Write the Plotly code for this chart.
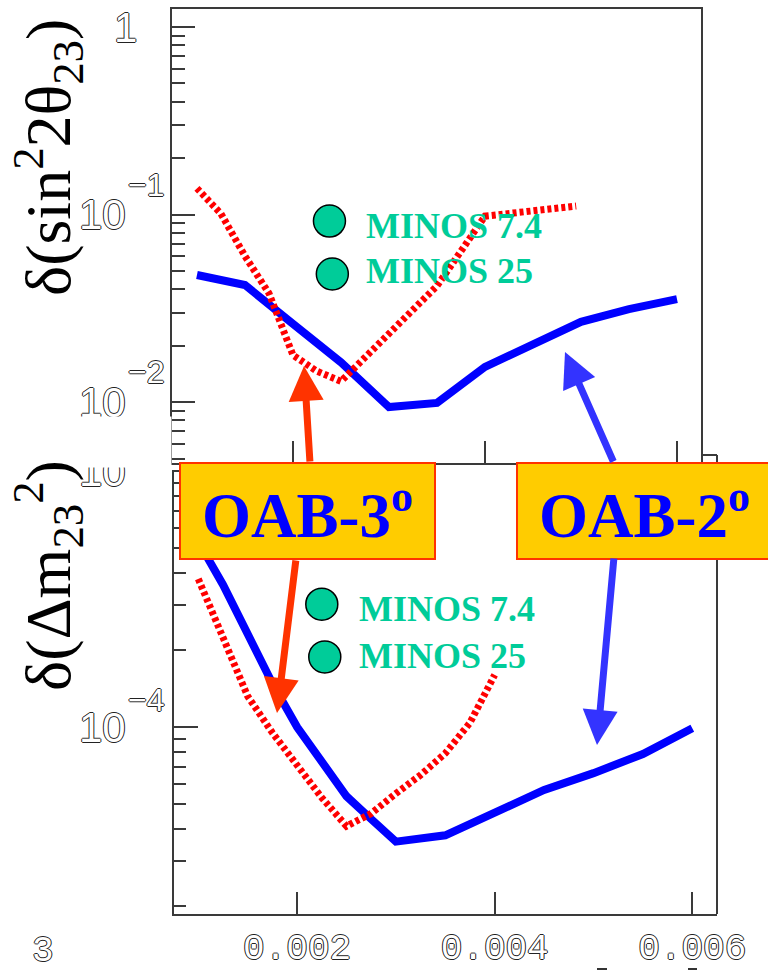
import numpy as np
import plotly.graph_objects as go

W, H = 768, 971

# --- δ(sin²2θ23) versus Δm²23 -------------------------------------------
dm2_sin_blue = [0.001, 0.0015, 0.002, 0.0025, 0.003, 0.0035, 0.004, 0.0045, 0.005, 0.0055, 0.006]
sin_blue = [0.0476, 0.0421, 0.0261, 0.0163, 0.0094, 0.0099, 0.0154, 0.0204, 0.0268, 0.0313, 0.0354]

dm2_sin_red = [0.001, 0.00125, 0.0015, 0.00175, 0.002, 0.00225, 0.0025, 0.00275, 0.003,
               0.0035, 0.004, 0.0045, 0.00495]
sin_red = [0.138, 0.101, 0.060, 0.038, 0.0178, 0.0146, 0.0129, 0.0172, 0.0228,
           0.0416, 0.098, 0.104, 0.111]

# --- δ(Δm²23) versus Δm²23 ----------------------------------------------
dm2_dm_blue = [0.001, 0.00125, 0.0015, 0.00175, 0.002, 0.00225, 0.0025, 0.00275, 0.003,
               0.0035, 0.004, 0.0045, 0.005, 0.0055, 0.006]
dm_blue = [5.3e-4, 3.6e-4, 2.31e-4, 1.48e-4, 1.0e-4, 7.3e-5, 5.37e-5, 4.37e-5, 3.57e-5,
           3.78e-5, 4.66e-5, 5.68e-5, 6.61e-5, 7.85e-5, 9.9e-5]

dm2_dm_red = [0.001, 0.00125, 0.0015, 0.00175, 0.002, 0.00225, 0.0025, 0.00275, 0.003,
              0.00325, 0.0035, 0.00375, 0.004]
dm_red = [3.79e-4, 2.23e-4, 1.32e-4, 9.5e-5, 7.1e-5, 5.3e-5, 4.1e-5, 4.6e-5, 5.5e-5,
          6.5e-5, 7.9e-5, 1.04e-4, 1.6e-4]

# MINOS reference points
minos_labels = ["MINOS 7.4", "MINOS 25"]
minos_sin_x = [0.00238, 0.00241]
minos_sin_y = [0.0923, 0.0482]
minos_dm_x = [0.00225, 0.00228]
minos_dm_y = [3.02e-4, 1.88e-4]

# axis ticks
x_ticks = [0.002, 0.004, 0.006]
x_ticktext = ["0.002", "0.004", "0.006"]
sin_ticks = [0.01, 0.1, 1]
sin_exponents = [-2, -1, 0]
sin_minor = [m * d for d in (0.001, 0.01, 0.1) for m in range(2, 10)]
dm_ticks = [1e-4, 1e-3]
dm_exponents = [-4, -3]
dm_minor = [m * d for d in (1e-5, 1e-4) for m in range(2, 10)]

BLUE = "#0000FF"
RED = "#FF0000"
GREEN = "#00CC99"
AXC = "#3a3a3a"
ARROW_RED = "#FF3300"
ARROW_BLUE = "#3333FF"


def px(x):
    return x / W


def py(y):
    return 1 - y / H


outline = "1px 0 0 #222, -1px 0 0 #222, 0 1px 0 #222, 0 -1px 0 #222"
font_mant = dict(family="Liberation Sans", size=42, color="white", shadow=outline)
font_exp = dict(family="Liberation Sans", size=32, color="white", shadow=outline)
tickfont_x = dict(family="Liberation Mono", size=36, color="white", shadow=outline)

fig = go.Figure()

# top panel
fig.add_trace(go.Scatter(x=dm2_sin_blue, y=sin_blue, mode="lines", xaxis="x", yaxis="y",
                         line=dict(color=BLUE, width=8), showlegend=False))
fig.add_trace(go.Scatter(x=dm2_sin_red, y=sin_red, mode="lines", xaxis="x", yaxis="y",
                         line=dict(color=RED, width=7, dash="4px,3px"), showlegend=False))
fig.add_trace(go.Scatter(x=minos_sin_x, y=minos_sin_y, mode="markers", xaxis="x", yaxis="y",
                         marker=dict(size=32, color=GREEN, line=dict(color="black", width=1.5)),
                         showlegend=False))

# bottom panel
fig.add_trace(go.Scatter(x=dm2_dm_blue, y=dm_blue, mode="lines", xaxis="x2", yaxis="y2",
                         line=dict(color=BLUE, width=8), showlegend=False))
fig.add_trace(go.Scatter(x=dm2_dm_red, y=dm_red, mode="lines", xaxis="x2", yaxis="y2",
                         line=dict(color=RED, width=7, dash="4px,3px"), showlegend=False))
fig.add_trace(go.Scatter(x=minos_dm_x, y=minos_dm_y, mode="markers", xaxis="x2", yaxis="y2",
                         marker=dict(size=32, color=GREEN, line=dict(color="black", width=1.5)),
                         showlegend=False))

common = dict(showgrid=False, zeroline=False, linecolor=AXC, linewidth=2, automargin=False,
              tickcolor=AXC, tickwidth=2, ticks="inside")

fig.update_layout(
    width=W, height=H,
    margin=dict(l=0, r=0, t=0, b=0, pad=0),
    paper_bgcolor="white", plot_bgcolor="white",
    xaxis=dict(domain=[px(172), px(701)], range=[0.00074, 0.00625], anchor="y",
               showline=True, mirror=True, ticklen=22, tickvals=x_ticks,
               showticklabels=False, **common),
    yaxis=dict(type="log", domain=[py(463), py(9)], range=[-2.325, 0.096], anchor="x",
               showline=True, mirror=True, ticklen=23, tickvals=sin_ticks,
               showticklabels=False,
               minor=dict(ticks="inside", ticklen=13, tickwidth=2, tickcolor=AXC,
                          tickmode="array", tickvals=sin_minor),
               **common),
    xaxis2=dict(domain=[px(174), px(717)], range=[0.000754, 0.00625], anchor="y2",
                showline=True, ticklen=22, tickvals=x_ticks, ticktext=x_ticktext,
                tickfont=tickfont_x, ticklabelstandoff=0, **common),
    yaxis2=dict(type="log", domain=[py(914), py(470)], range=[-4.730, -2.996], anchor="x2",
                showline=True, ticklen=24, tickvals=dm_ticks, showticklabels=False,
                minor=dict(ticks="inside", ticklen=12, tickwidth=2, tickcolor=AXC,
                           tickmode="array", tickvals=dm_minor),
                **common),
)

shapes = [
    # right edge and top-right corner of the lower frame
    dict(type="line", xref="paper", yref="paper", x0=px(717), x1=px(717), y0=py(914), y1=py(455),
         line=dict(color=AXC, width=2)),
    dict(type="line", xref="paper", yref="paper", x0=px(701), x1=px(717), y0=py(455), y1=py(455),
         line=dict(color=AXC, width=2)),
    # label boxes
    dict(type="rect", xref="paper", yref="paper", x0=px(180), x1=px(435), y0=py(559), y1=py(463),
         fillcolor="#FFCC00", line=dict(color="#FF3300", width=2), layer="above"),
    dict(type="rect", xref="paper", yref="paper", x0=px(517), x1=px(790), y0=py(559), y1=py(463),
         fillcolor="#FFCC00", line=dict(color="#FF3300", width=2), layer="above"),
    # cut-off marks along the lower edge
    dict(type="line", xref="paper", yref="paper", x0=px(597), x1=px(607), y0=py(969), y1=py(969),
         line=dict(color="#333", width=2)),
    dict(type="line", xref="paper", yref="paper", x0=px(688), x1=px(697), y0=py(969), y1=py(969),
         line=dict(color="#333", width=2)),
]
fig.update_layout(shapes=shapes)

ann = []
centered = dict(xanchor="center", yanchor="middle", showarrow=False)

# y tick labels (mantissa + raised exponent), placed on the axis scale
def power_labels(yref, exps, x_right, exp_shift):
    out = []
    for e in exps:
        if e == 0:
            out.append(dict(text="1", xref="paper", yref=yref, x=px(139), y=e,
                            xanchor="right", yanchor="middle", showarrow=False,
                            font=font_mant))
            continue
        out.append(dict(text="10", xref="paper", yref=yref, x=px(x_right + 2), y=e,
                        xanchor="right", yanchor="middle", showarrow=False, font=font_mant))
        out.append(dict(text="\u2212%d" % -e, xref="paper", yref=yref, x=px(x_right), y=e,
                        yshift=exp_shift, xanchor="left", yanchor="middle", showarrow=False,
                        font=font_exp))
    return out


ann += power_labels("y", sin_exponents, 126, 30)
ann += power_labels("y2", dm_exponents, 126, 27)

# upper panel sheet overlapping the lower axis label
ann.append(dict(text=" ", xref="paper", yref="paper", x=px(60), y=py(468), xanchor="left",
                yanchor="bottom", width=110, height=50, bgcolor="white", borderpad=0,
                showarrow=False, font=dict(size=10)))

# axis titles
ann.append(dict(text="δ(sin<sup>2</sup>2θ<sub>23</sub>)", xref="paper", yref="paper",
                x=px(48), y=py(158), textangle=-90, **centered,
                font=dict(family="Liberation Serif", size=64, color="black")))
ann.append(dict(text="δ(Δm<sub>23</sub><sup>2</sup>)", xref="paper", yref="paper",
                x=px(48), y=py(576), textangle=-90, **centered,
                font=dict(family="Liberation Serif", size=64, color="black")))
ann.append(dict(text="3", xref="paper", yref="paper", x=px(43), y=py(951), **centered,
                font=tickfont_x))

# MINOS labels
for lab, yv in zip(minos_labels, [0.0868, 0.0500]):
    ann.append(dict(text="<b>%s</b>" % lab, xref="x", yref="y", x=0.00274, y=np.log10(yv),
                    xanchor="left", yanchor="middle", showarrow=False,
                    font=dict(family="Liberation Serif", size=36, color=GREEN)))
for lab, yv in zip(minos_labels, [2.89e-4, 1.894e-4]):
    ann.append(dict(text="<b>%s</b>" % lab, xref="x2", yref="y2", x=0.00261, y=np.log10(yv),
                    xanchor="left", yanchor="middle", showarrow=False,
                    font=dict(family="Liberation Serif", size=36, color=GREEN)))

# arrows from the labels to the curves
arrows = [
    ((304, 366), (310, 463), ARROW_RED),
    ((277, 713), (296, 559), ARROW_RED),
    ((565, 352), (614, 463), ARROW_BLUE),
    ((597, 745), (614, 557), ARROW_BLUE),
]
for (tx, ty), (sx, sy), col in arrows:
    ann.append(dict(text="", xref="paper", yref="paper", x=px(tx), y=py(ty),
                    ax=sx - tx, ay=sy - ty, showarrow=True, arrowhead=2, arrowsize=1.0,
                    arrowwidth=7, arrowcolor=col, standoff=0, startstandoff=0))

# box labels
ann.append(dict(text="<b>OAB-3<sup>o</sup></b>", xref="paper", yref="paper", x=px(307), y=py(511),
                **centered, font=dict(family="Liberation Serif", size=63, color=BLUE)))
ann.append(dict(text="<b>OAB-2<sup>o</sup></b>", xref="paper", yref="paper", x=px(644), y=py(511),
                **centered, font=dict(family="Liberation Serif", size=63, color=BLUE)))

fig.update_layout(annotations=ann)

fig.write_html("out.html")
